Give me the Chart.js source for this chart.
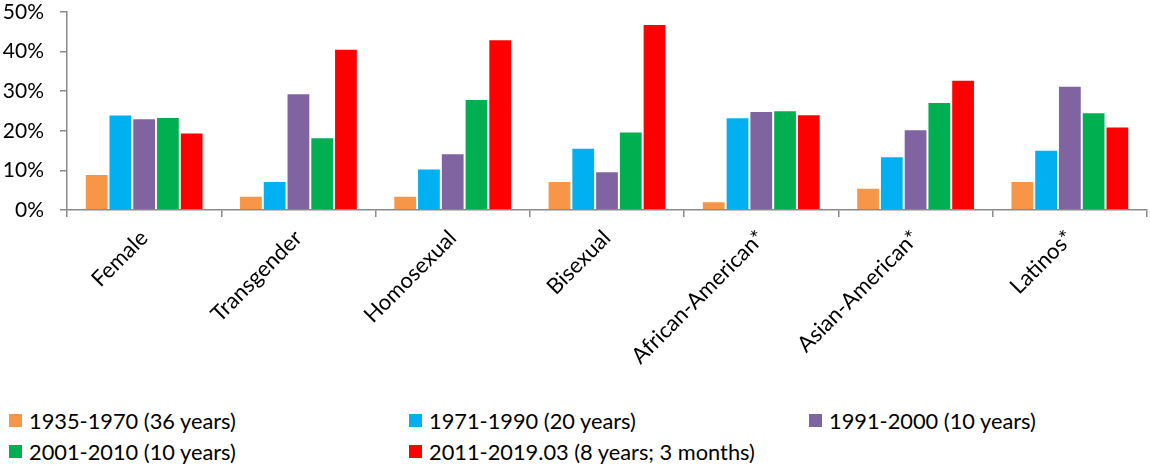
<!DOCTYPE html>
<html>
<head>
<meta charset="utf-8">
<script src="https://cdn.jsdelivr.net/npm/chart.js@4/dist/chart.umd.min.js"></script>
<style>
  html, body { margin: 0; padding: 0; background: #fff; }
  #wrap { position: relative; width: 1150px; height: 466px; overflow: hidden; font-family: Lato, "Open Sans", sans-serif; }
  #c { position: absolute; left: 0; top: 0; }
  .lg { position: absolute; display: flex; align-items: center; font-size: 21.8px; color: #000; white-space: nowrap; line-height: 1; }
  .lg i { display: inline-block; width: 13px; height: 13px; margin-right: 7px; }
</style>
</head>
<body>
<div id="wrap">
  <canvas id="c" width="1150" height="390"></canvas>
  <div id="legend"></div>
</div>
<script>
const categories = ["Female", "Transgender", "Homosexual", "Bisexual", "African-American*", "Asian-American*", "Latinos*"];
const seriesNames = ["1935-1970 (36 years)", "1971-1990 (20 years)", "1991-2000 (10 years)", "2001-2010 (10 years)", "2011-2019.03 (8 years; 3 months)"];
const seriesColors = ["#F79646", "#00B0F0", "#8064A2", "#00B050", "#FF0000"];
const s1935_1970 = [9.1, 3.6, 3.6, 7.3, 2.2, 5.6, 7.3];
const s1971_1990 = [24.1, 7.3, 10.5, 15.7, 23.4, 13.6, 15.2];
const s1991_2000 = [23.2, 29.5, 14.3, 9.8, 25.0, 20.4, 31.4];
const s2001_2010 = [23.5, 18.4, 28.0, 19.8, 25.2, 27.3, 24.7];
const s2011_2019 = [19.6, 40.7, 43.1, 47.0, 24.2, 32.9, 21.1];
const yTicks = [0, 10, 20, 30, 40, 50];

const seriesValues = [s1935_1970, s1971_1990, s1991_2000, s2001_2010, s2011_2019];

const datasets = seriesValues.map((vals, i) => ({
  label: seriesNames[i],
  data: vals,
  backgroundColor: seriesColors[i],
  borderColor: 'rgba(255,255,255,0.35)',
  borderWidth: 1,
  borderSkipped: 'bottom',
  categoryPercentage: 0.77,
  barPercentage: 1.0
}));

const axisColor = '#8a8a8a';

new Chart(document.getElementById('c'), {
  type: 'bar',
  data: { labels: categories, datasets },
  options: {
    responsive: false,
    animation: false,
    devicePixelRatio: 1,
    layout: { padding: { left: 0, right: 3, top: 12, bottom: 0 } },
    plugins: { legend: { display: false }, tooltip: { enabled: false } },
    scales: {
      x: {
        grid: { display: true, drawOnChartArea: false, drawTicks: true, tickLength: 7, color: axisColor, lineWidth: 1.5, offset: true },
        border: { display: true, color: axisColor, width: 1.5 },
        ticks: { color: '#000', font: { family: 'Lato', size: 22 }, autoSkip: false, maxRotation: 45, minRotation: 45, padding: 8 },
        afterFit: (s) => { s.height = 180; s.paddingLeft = 0; s.paddingRight = 0; }
      },
      y: {
        min: 0, max: 50,
        afterBuildTicks: (s) => { s.ticks = yTicks.map(v => ({ value: v })); },
        grid: { display: true, drawOnChartArea: false, drawTicks: true, tickLength: 7, color: axisColor, lineWidth: 1.5 },
        border: { display: true, color: axisColor, width: 1.5 },
        ticks: { color: '#000', font: { family: 'Lato', size: 21 }, padding: 16, callback: (v) => v + '%' },
        afterFit: (s) => { s.width = 67; s.paddingTop = 0; s.paddingBottom = 0; }
      }
    }
  }
});

// HTML legend in 3 columns
const legendPos = [[9, 415], [409, 415], [809, 415], [9, 446], [409, 446]];
const lg = document.getElementById('legend');
seriesNames.forEach((name, i) => {
  const d = document.createElement('div');
  d.className = 'lg';
  d.style.left = legendPos[i][0] + 'px';
  d.style.top = (legendPos[i][1] - 5) + 'px';
  const box = document.createElement('i');
  box.style.background = seriesColors[i];
  d.appendChild(box);
  d.appendChild(document.createTextNode(name));
  lg.appendChild(d);
});
</script>
</body>
</html>
